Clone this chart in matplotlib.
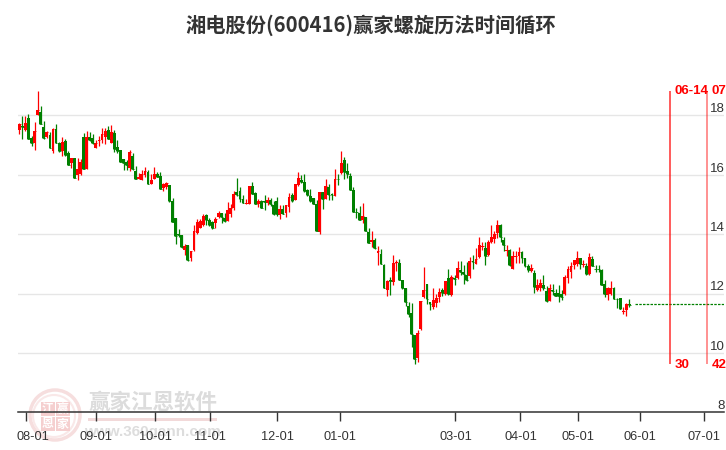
import matplotlib
matplotlib.use("Agg")
import matplotlib.pyplot as plt
from matplotlib.patches import Circle, Rectangle
from matplotlib.transforms import ScaledTranslation

title = "湘电股份(600416)赢家螺旋历法时间循环"

opens = [17.52,17.63,17.52,17.91,17.22,17.08,18.02,18.10,17.61,17.26,
17.34,16.81,17.53,17.06,16.81,17.13,16.72,16.40,16.55,15.99,
16.03,17.27,16.20,17.26,17.22,16.90,17.15,17.17,17.28,17.51,
17.08,17.40,16.92,16.83,16.52,16.44,16.24,16.63,16.11,15.87,
15.83,16.00,16.08,15.70,15.87,16.04,15.94,15.55,15.60,15.64,
15.13,14.53,13.99,13.98,13.48,13.63,13.18,13.46,14.03,14.22,
14.31,14.63,14.48,14.40,14.36,14.56,14.71,14.53,14.44,14.69,
14.88,15.41,15.44,15.17,15.03,15.03,15.61,15.39,15.03,15.11,
15.12,15.06,15.14,14.97,15.11,14.63,14.83,14.70,14.92,15.31,
15.16,15.66,15.83,15.77,15.49,15.28,15.20,15.03,14.08,15.41,
15.18,15.58,15.34,15.29,15.87,16.07,16.51,16.13,15.94,15.50,
14.74,14.72,14.49,14.57,14.07,13.73,13.80,13.38,13.34,12.97,
12.13,12.46,12.39,13.02,13.02,12.45,12.18,11.58,11.34,10.60,
9.83,10.79,11.89,12.31,11.71,11.54,11.67,11.88,12.11,11.97,
12.52,11.96,12.52,12.51,12.79,12.72,12.62,12.58,13.10,13.01,
13.24,13.57,13.54,13.28,13.72,13.84,14.03,14.29,13.80,13.42,
13.45,12.83,13.24,13.25,13.39,13.20,12.92,12.76,12.69,12.12,
12.17,12.29,12.09,11.75,12.12,12.01,12.03,11.99,12.00,12.52,
12.71,12.96,13.01,13.19,12.96,12.93,12.64,13.16,12.82,12.82,
12.80,12.33,11.94,12.00,12.19,11.83,11.84,11.39,11.46,11.64]

closes = [17.70,17.60,17.73,17.21,17.06,17.47,18.17,17.72,17.25,17.44,
16.91,17.53,17.07,16.81,17.09,16.65,16.34,16.55,15.90,16.19,
16.42,16.20,17.27,17.18,17.07,17.06,17.18,17.36,17.47,17.21,
17.44,16.88,16.81,16.44,16.40,16.34,16.76,16.20,15.87,15.91,
16.03,16.11,15.70,15.81,16.02,15.93,15.53,15.69,15.72,15.12,
14.42,13.94,13.98,13.56,13.60,13.14,13.44,14.11,14.41,14.43,
14.61,14.48,14.29,14.19,14.50,14.70,14.56,14.44,14.80,14.88,
15.34,15.32,15.18,15.06,15.04,15.61,15.36,15.03,15.11,14.89,
15.09,15.14,15.00,14.69,14.66,14.83,14.69,14.98,15.24,15.11,
15.68,15.88,15.74,15.46,15.31,15.13,15.02,14.11,15.41,15.17,
15.61,15.31,15.30,15.84,15.86,16.40,16.09,16.01,15.49,14.76,
14.73,14.49,14.61,14.12,13.71,13.80,13.52,13.44,13.01,12.20,
12.42,12.42,13.02,13.07,12.44,12.17,11.73,11.31,10.65,9.81,
10.66,11.75,12.11,11.82,11.63,11.78,11.84,12.04,12.01,12.42,
11.97,12.57,12.48,12.85,12.71,12.64,12.44,13.11,13.07,13.16,
13.63,13.60,13.25,13.73,13.90,14.01,14.31,13.89,13.62,13.46,
12.97,13.26,13.26,13.40,13.21,12.91,12.80,12.87,12.22,12.29,
12.35,12.17,11.75,12.17,12.10,11.93,11.92,11.89,12.55,12.82,
12.92,13.12,13.19,13.01,13.00,12.64,13.22,12.93,12.81,12.81,
12.30,12.00,12.20,12.20,11.83,11.81,11.49,11.40,11.64,11.62]

highs = [17.74,17.98,17.98,18.04,17.31,17.78,18.82,18.31,17.81,17.46,
17.44,17.57,17.71,17.10,17.27,17.20,16.80,16.56,16.56,16.55,
16.53,17.40,17.47,17.44,17.37,17.17,17.29,17.57,17.57,17.64,
17.67,17.49,17.17,16.84,16.53,16.48,16.82,16.72,16.29,16.06,
16.16,16.25,16.16,16.04,16.25,16.08,16.08,15.72,15.76,15.64,
15.21,14.54,14.17,13.98,13.68,13.63,13.44,14.31,14.50,14.50,
14.68,14.68,14.53,14.44,14.57,14.78,14.71,14.70,15.08,15.03,
15.44,15.89,15.59,15.33,15.17,15.62,15.76,15.42,15.18,15.14,
15.31,15.24,15.23,15.11,15.26,14.97,14.98,14.98,15.39,15.37,
15.68,16.10,16.00,16.01,15.52,15.52,15.23,15.16,15.41,15.42,
15.84,15.70,15.40,16.20,16.03,16.81,16.59,16.40,16.07,15.59,
14.87,14.94,15.04,14.57,14.20,14.11,13.88,13.61,13.51,13.00,
12.46,12.55,13.29,13.12,13.17,12.46,12.20,11.73,11.67,10.61,
10.78,11.75,12.90,12.33,11.73,12.19,11.97,12.18,12.18,12.43,
12.83,12.61,12.61,13.10,13.10,12.97,13.06,13.22,13.30,13.53,
13.91,13.75,13.75,13.79,14.31,14.10,14.48,14.33,13.90,13.64,
13.49,13.42,13.42,13.57,13.42,13.21,13.01,12.99,12.80,12.48,
12.48,12.63,12.25,12.33,12.33,12.16,12.29,12.12,12.63,12.91,
13.06,13.13,13.44,13.19,13.12,13.02,13.37,13.27,12.97,12.97,
12.82,12.46,12.22,12.43,12.21,11.85,11.85,11.54,11.67,11.82]

lows = [17.38,17.21,17.48,17.20,16.98,16.84,18.01,17.71,17.21,17.22,
16.90,16.74,17.06,16.78,16.64,16.63,16.34,16.22,15.90,15.82,
15.99,16.20,16.20,17.15,17.03,16.90,16.97,17.08,17.03,17.21,
17.08,16.76,16.74,16.42,16.16,16.16,16.13,16.16,15.85,15.85,
15.82,15.93,15.69,15.69,15.85,15.92,15.52,15.45,15.52,15.09,
14.42,13.66,13.91,13.53,13.31,13.09,13.09,13.44,14.01,14.21,
14.28,14.31,14.26,14.17,14.20,14.53,14.37,14.41,14.43,14.57,
14.81,15.29,15.09,15.04,15.03,15.03,15.34,15.02,14.92,14.87,
14.82,14.99,14.96,14.64,14.61,14.52,14.68,14.57,14.76,15.08,
15.14,15.62,15.71,15.43,15.28,15.09,15.00,14.09,14.01,14.84,
15.17,15.14,15.14,15.28,15.64,16.01,15.87,15.89,15.48,14.73,
14.53,14.48,14.39,14.11,13.70,13.58,13.49,12.97,12.99,12.17,
11.92,11.96,12.29,12.76,12.44,12.16,11.58,11.22,10.21,9.61,
9.71,10.78,11.84,11.63,11.45,11.49,11.56,11.73,11.90,11.96,
11.96,11.92,12.29,12.48,12.61,12.33,12.43,12.53,12.83,13.00,
13.21,13.48,12.97,13.27,13.70,13.70,13.87,13.75,13.44,13.25,
12.93,12.83,13.02,13.04,13.04,12.88,12.71,12.71,12.03,12.07,
12.09,12.12,11.70,11.74,11.96,11.92,11.73,11.79,11.96,12.35,
12.52,12.84,12.91,12.83,12.89,12.63,12.63,12.91,12.71,12.71,
12.29,11.87,11.79,11.96,11.81,11.51,11.47,11.31,11.25,11.55]

projection_price = 11.63
projection_span = [201, 229.9]

date_labels = ["08-01","09-01","10-01","11-01","12-01","01-01","03-01","04-01","05-01","06-01","07-01"]
date_index = [2.28,25.1,44.4,62.3,84.2,104.7,142.3,163.5,182.4,202.6,223.5]
price_ticks = [8,10,12,14,16,18]

cycle_index = [212.3,224.4]
cycle_dates = ["06-14","07-02"]
cycle_counts = ["30","42"]
cycle_range = [9.63,18.82]

RED = "#ff0000"
GREEN = "#008000"
INK = "#333333"

plt.rcParams["font.family"] = ["Liberation Sans", "DejaVu Sans"]
W, H = 726, 450
fig = plt.figure(figsize=(W/100, H/100), dpi=100, facecolor="white")

# Watermark and title layer, in pixel coordinates
bg = fig.add_axes([0, 0, 1, 1], zorder=0)
bg.set_xlim(0, W); bg.set_ylim(H, 0); bg.axis("off")
bg.add_patch(Circle((55, 415), 25, fill=False, ec="#f6dede", lw=2.5))
bg.add_patch(Circle((54, 416), 21, fill=False, ec="#f9e8e8", lw=1.5))
for (cx, cy, ch) in [(47.5, 409, "江"), (62.5, 409, "赢"), (47.5, 424, "恩"), (62.5, 424, "家")]:
    bg.add_patch(Rectangle((cx-7, cy-7), 14, 14, fc="#f5cfcf", ec="none"))
    bg.text(cx, cy, ch, color="white", fontsize=8.5, ha="center", va="center",
            family="Noto Sans CJK SC", weight="bold")
bg.text(152.5, 402, "赢家江恩软件", color="#dcdcdc", fontsize=15.5, ha="center", va="center",
        family="Noto Sans CJK SC", weight="bold")
bg.add_patch(Rectangle((88, 417.5), 129, 3, fc="#f2d9d9", ec="none"))
bg.text(152.5, 432, "www.360gann.com", color="#dddddd", fontsize=11, ha="center", va="center",
        family="Liberation Sans", weight="bold")
bg.text(371, 25, title, color=INK, fontsize=14.6, ha="center", va="center",
        family="Noto Sans CJK SC", weight="bold")

# Main chart
ax_top = 85
ax_bot = 412.3
ax = fig.add_axes([18/W, (H-ax_bot)/H, (724-18)/W, (ax_bot-ax_top)/H], zorder=1)
ax.patch.set_alpha(0)
ax.set_xlim(-0.42, 229.9)
ax.set_ylim(8, 8 + (ax_bot-ax_top)/29.7)

xs = list(range(len(opens)))
colors = [RED if c > o else GREEN for o, c in zip(opens, closes)]
ax.vlines(xs, lows, highs, colors=colors, linewidth=0.9, zorder=3)
ax.bar(xs, [abs(c-o) for o, c in zip(opens, closes)],
       bottom=[min(o, c) for o, c in zip(opens, closes)],
       width=0.93, color=colors, linewidth=0, zorder=4)
ax.hlines(closes, [x-0.45 for x in xs], [x+0.45 for x in xs], colors=colors, linewidth=0.6, zorder=4)

ax.plot(projection_span, [projection_price]*2, color=GREEN, lw=0.9, ls=(0, (2, 1)), zorder=3)

for xi, alpha in zip(cycle_index, [0.75, 0.5]):
    ax.vlines(xi, *cycle_range, color=RED, lw=1.2, alpha=alpha, zorder=5)
for xi, d, n in zip(cycle_index, cycle_dates, cycle_counts):
    ax.annotate(d, (xi, cycle_range[1]), xytext=(4.5, 0), textcoords="offset pixels",
                color=RED, fontsize=9.5, weight="bold", ha="left", va="center", annotation_clip=False, zorder=6)
    ax.annotate(n, (xi, cycle_range[0]), xytext=(4.5, -1), textcoords="offset pixels",
                color=RED, fontsize=9.5, weight="bold", ha="left", va="center", annotation_clip=False, zorder=6)

ax.set_yticks(price_ticks)
ax.yaxis.tick_right()
ax.tick_params(axis="y", length=0, pad=0.5, labelsize=9.5, labelcolor=INK)
for lab in ax.get_yticklabels():
    lab.set_ha("right")
    lab.set_va("bottom")
ax.grid(axis="y", color="#e6e6e6", lw=1, zorder=1)
ax.set_axisbelow(True)

ax.set_xticks(date_index)
ax.set_xticklabels(date_labels)
ax.tick_params(axis="x", length=8.5/100*72, width=1, color=INK, pad=7, labelsize=9.2, labelcolor=INK)
first = ax.get_xticklabels()[0]
first.set_transform(first.get_transform() + ScaledTranslation(7/100, 0, fig.dpi_scale_trans))

for side in ["top", "left", "right"]:
    ax.spines[side].set_visible(False)
ax.spines["bottom"].set_color(INK)
ax.spines["bottom"].set_linewidth(1.1)

fig.savefig("out.png", dpi=100)
